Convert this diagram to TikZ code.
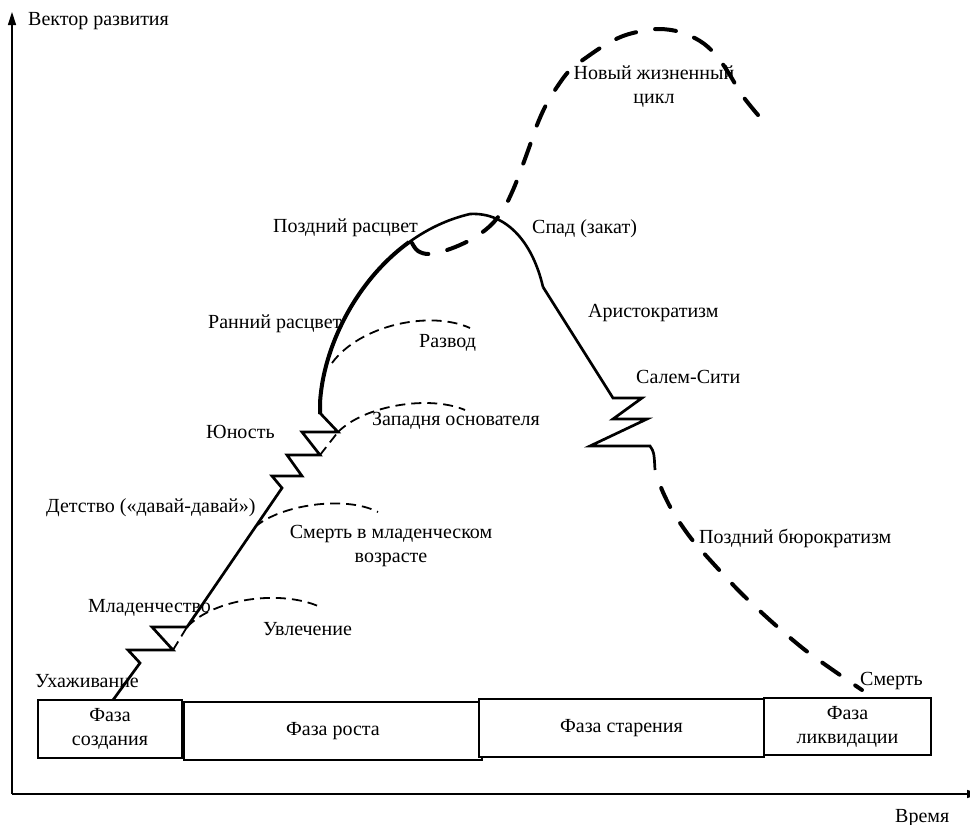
\documentclass[tikz,border=0pt]{standalone}
\usepackage{fontspec}
\setmainfont{Liberation Serif}
\usetikzlibrary{arrows.meta}
\newcommand\lblfont{\fontsize{20}{24}\selectfont}
\begin{document}
\begin{tikzpicture}[x=1pt,y=-1pt,line join=miter,
  lbl/.style={inner sep=0pt,anchor=base west,font=\lblfont},
  phase/.style={draw,line width=1.3pt,fill=white,inner sep=0pt,align=center,font=\lblfont},
  thindash/.style={line width=1.8pt,dash pattern=on 10pt off 6pt},
  heavydash/.style={line width=4pt,line cap=round,dash pattern=on 21pt off 19.3pt},
  solidcurve/.style={line width=2.7pt},
  axis/.style={line width=1.5pt,-{Triangle[length=13pt,width=8pt]}}]
\useasboundingbox (0,0) rectangle (970,825);
% axes
\coordinate (o) at (12,794);
\coordinate (ytip) at (12,12);
\coordinate (xtip) at (980,794);
\draw[axis] (o) -- (ytip);
\draw[axis] (o) -- (xtip);
% phase boxes
\node[phase,minimum width=144pt,minimum height=58pt] (b1) at (110,729) {Фаза\\создания};
\node[phase,minimum width=298pt,minimum height=58pt] (b2) at (333,731) {Фаза роста};
\node[phase,minimum width=285pt,minimum height=58pt] (b3) at (621.5,728) {Фаза старения};
\node[phase,minimum width=167pt,minimum height=57pt] (b4) at (847.5,726.5) {Фаза\\ликвидации};
% left solid path with zigzags
\draw[solidcurve] (113,700) -- (140,663) -- (128,650) -- (173,650) -- (152,627) -- (187,627)
  -- (282,488) -- (272,476) -- (302,476) -- (287,455) -- (320,455) -- (302,432) -- (338,432)
  -- (320,413) -- (320,403);
% main arc
\draw[line width=2.6pt] (320,403) .. controls (324,330) and (380,235) .. (470,214)
  .. controls (505,212) and (532,240) .. (543,287);
\draw[line width=4pt] (320,414) -- (320,403) .. controls (323,348.25) and (355.25,281.1) .. (409.1,242.1);
% right solid path with zigzag
\draw[solidcurve] (543,287) -- (613,398) -- (642,398) -- (613,419) -- (647,419) -- (590,446) -- (650,446) .. controls (654,452) .. (655,470);
% thin dashed branches
\draw[thindash] (173,650) -- (187,627);
\draw[thindash] (187,627) .. controls (215,598) and (280,590) .. (318,606);
\draw[thindash] (255,527) .. controls (280,505) and (345,495) .. (378,512);
\draw[thindash] (320,455) -- (338,432);
\draw[thindash] (338,432) .. controls (365,405) and (430,395) .. (465,410);
\draw[thindash] (332,363) .. controls (360,325) and (430,310) .. (470,328);
% heavy dashed: new life cycle
\draw[heavydash] plot[smooth,tension=0.6] coordinates {(412,243) (418,251) (430,254) (450,249) (472,239) (490,226) (503,210) (513,190) (522,167) (530,145) (537,125) (546,105) (557,87) (570,70) (587,57) (605,45) (623,36) (642,31) (660,29) (680,32) (700,41) (715,54) (728,72) (742,95) (758,115)};
% heavy dashed: late bureaucracy to death
\draw[heavydash,dash pattern=on 21pt off 19pt,dash phase=21pt] plot[smooth] coordinates {(655,470) (662,490) (673,512) (690,537) (710,560) (740,592) (772,622) (805,650) (840,675) (862,690)};
% labels
\node[lbl] (vec) at (28,25) {Вектор развития};
\node[lbl,anchor=center,align=center] (ncyc) at (654,87) {Новый жизненный\\цикл};
\node[lbl] (pozd) at (273,232) {Поздний расцвет};
\node[lbl] (spad) at (532,233) {Спад (закат)};
\node[lbl] (rann) at (208,328) {Ранний расцвет};
\node[lbl] (arist) at (588,317) {Аристократизм};
\node[lbl] (razv) at (419,347) {Развод};
\node[lbl] (salem) at (636,383) {Салем-Сити};
\node[lbl] (yun) at (206,438) {Юность};
\node[lbl] (zap) at (372,425) {Западня основателя};
\node[lbl] (det) at (46,512) {Детство («давай-давай»)};
\node[lbl,anchor=center,align=center] (smm) at (391,546) {Смерть в младенческом\\возрасте};
\node[lbl] (pbur) at (699,543) {Поздний бюрократизм};
\node[lbl] (mlad) at (88,612) {Младенчество};
\node[lbl] (uvl) at (263,635) {Увлечение};
\node[lbl] (uhazh) at (35,687) {Ухаживание};
\node[lbl] (smert) at (860,685) {Смерть};
\node[lbl] (vrem) at (895,822) {Время};
\end{tikzpicture}
\end{document}
